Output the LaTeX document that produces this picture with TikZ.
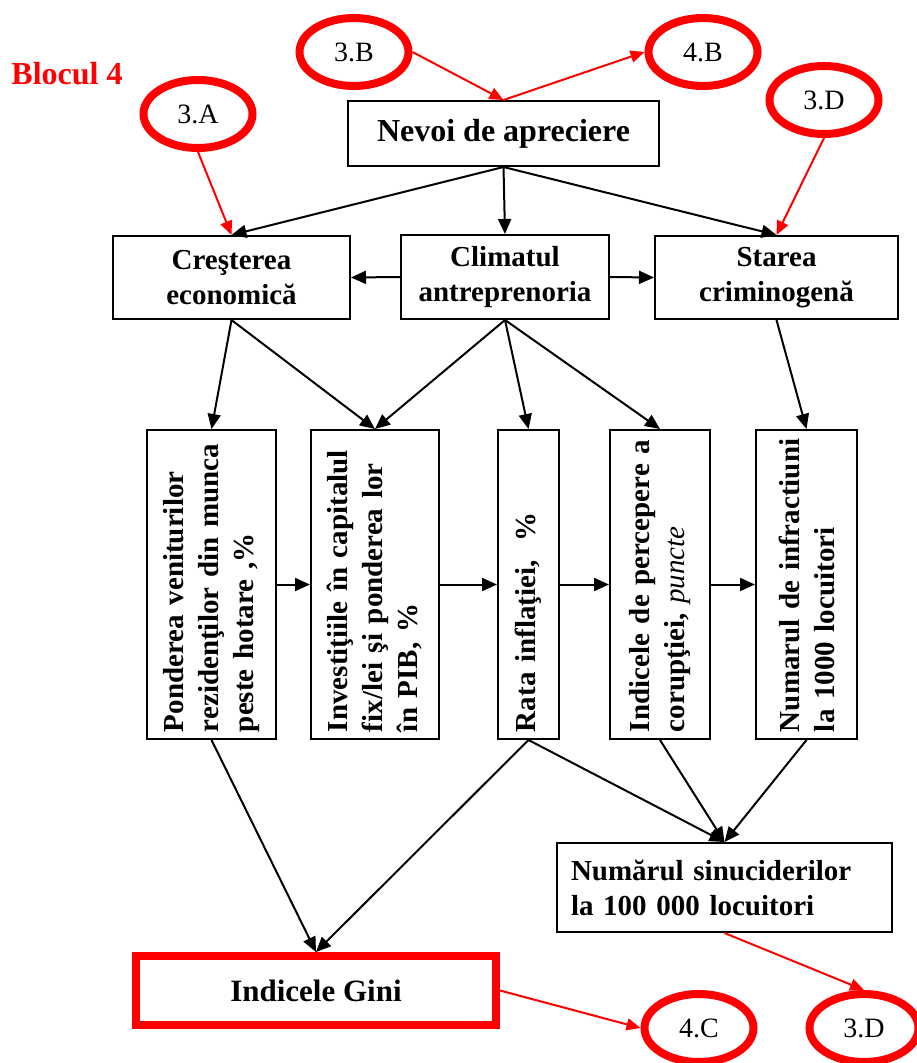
\documentclass[tikz,border=0pt]{standalone}
\usepackage{fontspec}
\setmainfont{Liberation Serif}
\usetikzlibrary{arrows.meta,shapes.geometric}
\begin{document}
\begin{tikzpicture}[x=1pt,y=-1pt,
  box/.style={draw=black,line width=2pt,inner sep=0pt,align=center,font=\fontsize{29}{35}\selectfont\bfseries},
  vtext/.style={rotate=90,align=left,inner sep=0pt,font=\fontsize{29}{35}\selectfont\bfseries},
  oval/.style={ellipse,draw=red,line width=8pt,minimum width=109pt,minimum height=68pt,inner sep=0pt,font=\fontsize{28}{32}\selectfont},
  arr/.style={-{Triangle[length=15pt,width=13pt]},line width=2pt,draw=black},
  rarr/.style={-{Triangle[length=14pt,width=12pt]},line width=2pt,draw=red,color=red}
]
\useasboundingbox (0,0) rectangle (916,1063);
\fill[white] (0,0) rectangle (916,1063);

\node[text=red,font=\fontsize{32}{36}\selectfont\bfseries] (blk) at (67,74) {Blocul 4};

% ovals
\node[oval] (e3A) at (198,114) {3.A};
\node[oval] (e3B) at (354,52) {3.B};
\node[oval] (e4B) at (703,52) {4.B};
\node[oval] (e3Dt) at (824,100) {3.D};
\node[oval] (e4C) at (699,1028) {4.C};
\node[oval] (e3Db) at (864,1028) {3.D};

% top box
\node[box,minimum width=311pt,minimum height=65pt,font=\fontsize{32}{38}\selectfont\bfseries] (nev) at (503.5,133.5) {Nevoi de apreciere};

% second row
\node[box,minimum width=237pt,minimum height=83pt] (cres) at (231.5,277.5) {Creşterea\\economică};
\node[box,minimum width=208pt,minimum height=84pt] (clim) at (505,277) {Climatul\\antreprenoria};
\node[box,minimum width=243pt,minimum height=83pt] (star) at (776.5,277.5) {Starea\\criminogenă};

% third row (vertical boxes)
\node[box,minimum width=129pt,minimum height=309pt] (pond) at (211.5,584.5) {};
\node[box,minimum width=128pt,minimum height=309pt] (inv) at (375,584.5) {};
\node[box,minimum width=61pt,minimum height=309pt] (rata) at (528.5,584.5) {};
\node[box,minimum width=100pt,minimum height=309pt] (ind) at (660,584.5) {};
\node[box,minimum width=101pt,minimum height=309pt] (num) at (806.5,584.5) {};

\node[vtext,text width=295pt] (pondt) at (pond.center) {Ponderea veniturilor\\rezidenţilor din munca\\peste hotare ,\%};
\node[vtext,text width=295pt] (invt) at (inv.center) {Investiţiile în capitalul\\fix/lei şi ponderea lor\\în PIB, \%};
\node[vtext,text width=295pt] (ratat) at (rata.center) {Rata inflaţiei,\ \ \%};
\node[vtext,text width=295pt] (indt) at (ind.center) {Indicele de percepere a\\corupţiei, {\normalfont\itshape puncte}};
\node[vtext,text width=295pt] (numt) at (num.center) {Numarul de infractiuni\\la 1000 locuitori};

% bottom boxes
\node[box,minimum width=335pt,minimum height=89pt,text width=307pt,align=left] (sin) at (724.5,887.5) {Numărul sinuciderilor\\la 100 000 locuitori};
\node[box,draw=red,line width=8pt,minimum width=360pt,minimum height=69pt,font=\fontsize{31}{36}\selectfont\bfseries] (gini) at (316,990.5) {Indicele Gini};

% red connectors
\draw[rarr] (e3B.east) -- (nev.north);
\draw[rarr] (nev.north) -- (e4B.west);
\draw[rarr] (e3A.south) -- (cres.north);
\draw[rarr] (e3Dt.south) -- (star.north);
\draw[rarr] (sin.south) -- (e3Db.north);
\draw[rarr] (gini.east) -- (e4C.west);

% black connectors
\draw[arr] (nev.south) -- (cres.north);
\draw[arr] (nev.south) -- (clim.north);
\draw[arr] (nev.south) -- (star.north);
\draw[arr] (clim.west) -- (cres.east);
\draw[arr] (clim.east) -- (star.west);

\draw[arr] (cres.south) -- (pond.north);
\draw[arr] (cres.south) -- (inv.north);
\draw[arr] (clim.south) -- (inv.north);
\draw[arr] (clim.south) -- (rata.north);
\draw[arr] (clim.south) -- (ind.north);
\draw[arr] (star.south) -- (num.north);

\draw[arr] (pond.east) -- (inv.west);
\draw[arr] (inv.east) -- (rata.west);
\draw[arr] (rata.east) -- (ind.west);
\draw[arr] (ind.east) -- (num.west);

\draw[arr] (pond.south) -- (gini.north);
\draw[arr] (rata.south) -- (gini.north);
\draw[arr] (rata.south) -- (sin.north);
\draw[arr] (ind.south) -- (sin.north);
\draw[arr] (num.south) -- (sin.north);
\end{tikzpicture}
\end{document}
